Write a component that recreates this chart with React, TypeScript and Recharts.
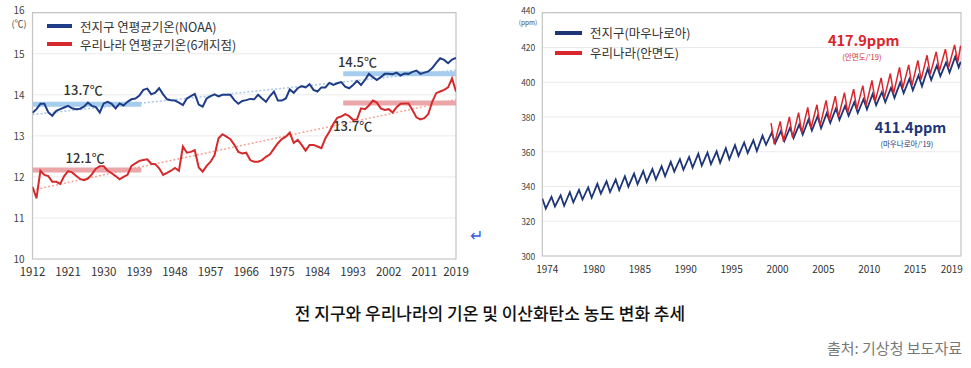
import React from 'react';
import { LineChart, Line, XAxis, YAxis, CartesianGrid, ReferenceArea, ReferenceDot, Legend } from 'recharts';

const FONT = '"Noto Sans CJK KR", "Noto Sans", sans-serif';

// ---------------- Temperature panel ----------------
const tempStartYear = 1912;
const globalTemp = [
  13.56, 13.65, 13.78, 13.78, 13.57, 13.49, 13.61, 13.65, 13.69, 13.73,
  13.67, 13.65, 13.66, 13.71, 13.81, 13.73, 13.70, 13.57, 13.79, 13.83,
  13.78, 13.67, 13.79, 13.74, 13.83, 13.89, 13.91, 13.98, 14.12, 14.15,
  14.01, 14.05, 14.16, 14.01, 13.89, 13.87, 13.86, 13.81, 13.75, 13.91,
  13.97, 14.02, 13.76, 13.71, 13.91, 13.97, 14.01, 13.96, 14.00, 14.00,
  14.00, 13.87, 13.78, 13.85, 13.87, 13.90, 13.89, 14.00, 13.91, 13.83,
  13.97, 14.08, 13.86, 13.86, 13.91, 14.13, 14.05, 14.16, 14.21, 14.18,
  14.26, 14.12, 14.08, 14.18, 14.18, 14.29, 14.24, 14.28, 14.31, 14.20,
  14.16, 14.24, 14.34, 14.24, 14.36, 14.51, 14.43, 14.36, 14.43, 14.51,
  14.51, 14.50, 14.54, 14.47, 14.52, 14.51, 14.56, 14.59, 14.51, 14.54,
  14.57, 14.65, 14.78, 14.89, 14.85, 14.77, 14.86, 14.90,
];
const koreaTemp = [
  11.76, 11.48, 12.15, 12.05, 12.02, 11.88, 11.88, 11.83, 12.02, 12.14,
  12.11, 12.03, 11.95, 11.92, 11.96, 12.06, 12.20, 12.26, 12.26, 12.15,
  12.09, 12.02, 11.94, 12.00, 12.05, 12.27, 12.33, 12.39, 12.41, 12.43,
  12.32, 12.31, 12.21, 12.05, 12.10, 12.15, 12.22, 12.15, 12.74, 12.59,
  12.61, 12.65, 12.23, 12.13, 12.27, 12.37, 12.53, 12.94, 13.04, 12.98,
  12.92, 12.78, 12.61, 12.57, 12.59, 12.41, 12.37, 12.37, 12.41, 12.49,
  12.55, 12.69, 12.82, 12.92, 12.98, 13.08, 12.83, 12.90, 12.78, 12.64,
  12.78, 12.78, 12.74, 12.70, 12.94, 13.10, 13.29, 13.44, 13.47, 13.53,
  13.48, 13.39, 13.40, 13.67, 13.65, 13.74, 13.86, 13.81, 13.67, 13.63,
  13.65, 13.57, 13.70, 13.78, 13.79, 13.79, 13.63, 13.45, 13.40, 13.43,
  13.53, 13.83, 14.04, 14.08, 14.12, 14.18, 14.40, 14.08,
];
const tempXTicks = [1912, 1921, 1930, 1939, 1948, 1957, 1966, 1975, 1984, 1993, 2002, 2011, 2019];
const tempYTicks = [10, 11, 12, 13, 14, 15, 16];
const trendYears = [1912, 2019];
const globalTrend = [13.52, 14.6];
const koreaTrend = [11.68, 13.88];
const earlyPeriod = [1912, 1939.5];
const latePeriod = [1990.5, 2019];
const globalPeriodMean = [13.77, 14.51];
const koreaPeriodMean = [12.17, 13.8];
const globalPeriodLabels = ['13.7℃', '14.5℃'];
const koreaPeriodLabels = ['12.1℃', '13.7℃'];
const tempSeriesNames = ['전지구 연평균기온(NOAA)', '우리나라 연평균기온(6개지점)'];

// ---------------- CO2 panel ----------------
const co2StartYear = 1974;
const globalCo2Peak = [
  333.1, 334.0, 334.9, 336.7, 338.0, 339.5, 341.5, 343.0, 344.0, 345.9,
  347.4, 348.9, 350.0, 351.6, 354.2, 355.7, 357.0, 358.9, 359.5, 360.2,
  362.0, 363.8, 365.3, 366.6, 369.3, 371.0, 371.8, 373.8, 375.6, 378.4,
  380.4, 382.2, 384.9, 386.4, 388.5, 390.2, 393.2, 394.3, 396.8, 399.8,
  401.9, 403.9, 407.6, 409.7, 411.3, 414.7,
];
const globalCo2Trough = [
  327.3, 328.5, 328.9, 330.9, 332.5, 333.5, 335.9, 336.8, 337.9, 339.9,
  341.3, 342.6, 344.0, 345.9, 348.6, 349.6, 350.9, 352.0, 352.9, 353.7,
  355.6, 357.6, 359.3, 360.4, 364.0, 364.9, 366.1, 367.8, 369.9, 372.2,
  373.5, 376.6, 378.4, 380.7, 382.3, 384.4, 386.8, 388.5, 391.0, 393.7,
  395.4, 397.6, 401.2, 403.5, 405.5, 408.5,
];
const globalCo2Last = 411.8;
const koreaStartYear = 1999;
const koreaCo2Peak = [
  376.5, 377.5, 380.0, 382.5, 385.5, 387.0, 389.5, 392.0, 394.0, 396.0,
  398.0, 401.0, 402.5, 405.0, 408.5, 410.0, 412.5, 415.5, 417.5, 419.0, 421.5,
];
const koreaCo2Trough = [
  364.4, 365.8, 368.0, 371.0, 373.5, 375.0, 378.0, 380.0, 382.5, 384.5,
  386.5, 389.0, 391.0, 393.5, 396.5, 398.0, 401.5, 404.5, 406.5, 408.5, 411.5,
];
const koreaCo2Last = 421.0;
const globalPeakPhase = 0.37; // May
const globalTroughPhase = 0.75; // Sep/Oct
const koreaPeakPhase = 0.3; // Apr
const koreaTroughPhase = 0.65; // Aug
const lastPhase = 0.96; // Dec
const co2Domain = [1974.37, 2020];
const co2XTicks = [1974.37, 1980, 1985, 1990, 1995, 2000, 2005, 2010, 2015, 2019];
const co2YTicks = [300, 320, 340, 360, 380, 400, 420, 440];
const co2SeriesNames = ['전지구(마우나로아)', '우리나라(안면도)'];
const co2Labels = ['417.9ppm', '(안면도/’19)', '411.4ppm', '(마우나로아/’19)'];

// ---------------- derived tables ----------------
const globalTempData = globalTemp.map((v, i) => ({ year: tempStartYear + i, v }));
const koreaTempData = koreaTemp.map((v, i) => ({ year: tempStartYear + i, v }));
const globalTrendData = trendYears.map((year, i) => ({ year, v: globalTrend[i] }));
const koreaTrendData = trendYears.map((year, i) => ({ year, v: koreaTrend[i] }));
const bandData = (period: number[], value: number) => period.map((year) => ({ year, v: value }));

const globalCo2Data = [
  ...globalCo2Peak.flatMap((p, i) => [
    { t: co2StartYear + i + globalPeakPhase, v: p },
    { t: co2StartYear + i + globalTroughPhase, v: globalCo2Trough[i] },
  ]),
  { t: co2StartYear + globalCo2Peak.length - 1 + lastPhase, v: globalCo2Last },
];
const koreaCo2Data = [
  ...koreaCo2Peak.flatMap((p, i) => [
    { t: koreaStartYear + i + koreaPeakPhase, v: p },
    { t: koreaStartYear + i + koreaTroughPhase, v: koreaCo2Trough[i] },
  ]),
  { t: koreaStartYear + koreaCo2Peak.length - 1 + lastPhase, v: koreaCo2Last },
];

// ---------------- colours ----------------
const TEMP_BLUE = '#1f3d87';
const TEMP_RED = '#d42a2c';
const BAND_BLUE = '#a6cdee';
const BAND_RED = '#eaa6a9';
const TREND_BLUE = '#a3c8ec';
const TREND_RED = '#f4a394';
const CO2_BLUE = '#1e3577';
const CO2_RED = '#d9262d';
const FRAME = '#c4c4c4';
const GRID = '#ebebeb';

const makeLegend = (order: string[], opt: { rowH: number; sw: number; th: number; gap: number; fs: number }) => (props: any) => {
  const items = (props.payload || [])
    .filter((p: any) => p.type !== 'none' && order.indexOf(p.value) >= 0)
    .sort((a: any, b: any) => order.indexOf(a.value) - order.indexOf(b.value));
  return (
    <div style={{ fontFamily: FONT }}>
      {items.map((it: any) => (
        <div key={it.value} style={{ display: 'flex', alignItems: 'center', height: opt.rowH }}>
          <span style={{ display: 'inline-block', width: opt.sw, height: opt.th, background: it.color, marginRight: opt.gap }} />
          <span style={{ fontSize: opt.fs, color: '#333', whiteSpace: 'nowrap' }}>{it.value}</span>
        </div>
      ))}
    </div>
  );
};

const TempYTick = (props: any) => {
  const { x, y, payload } = props;
  const top = payload.value === 16;
  const bottom = payload.value === 10;
  return (
    <g>
      <text x={x} y={top ? y - 3 : bottom ? y - 1 : y} textAnchor="end" dominantBaseline="central" fontSize={10} fill="#444" fontFamily={FONT}>
        {payload.value}
      </text>
      {top && (
        <text x={x + 2} y={y + 11} textAnchor="end" dominantBaseline="central" fontSize={9} fill="#444" fontFamily={FONT}>
          (℃)
        </text>
      )}
    </g>
  );
};

const Co2YTick = (props: any) => {
  const { x, y, payload } = props;
  const top = payload.value === 440;
  return (
    <g>
      <text x={x} y={top ? y - 3 : y} textAnchor="end" dominantBaseline="central" fontSize={8.5} fill="#444" fontFamily={FONT}>
        {payload.value}
      </text>
      {top && (
        <text x={x + 2} y={y + 9} textAnchor="end" dominantBaseline="central" fontSize={6.5} fill="#444" fontFamily={FONT}>
          (ppm)
        </text>
      )}
    </g>
  );
};

const Co2XTick = (props: any) => {
  const { x, y, payload, index } = props;
  return (
    <text x={index === 0 ? x + 5 : x} y={y} dy="0.71em" textAnchor="middle" fontSize={10} fill="#333" fontFamily={FONT}>
      {String(Math.floor(payload.value))}
    </text>
  );
};

const textShape = (text: string, fs: number, color: string, weight: number) => (p: any) => (
  <text x={p.cx} y={p.cy} textAnchor="middle" dominantBaseline="central" fontSize={fs} fill={color} fontWeight={weight} fontFamily={FONT}>
    {text}
  </text>
);

export default function App() {
  return (
    <div style={{ position: 'absolute', left: 0, top: 0, width: 971, height: 368, background: '#fff', fontFamily: FONT, overflow: 'hidden' }}>
      {/* Left: temperature */}
      <div style={{ position: 'absolute', left: 0, top: 0 }}>
        <LineChart width={470} height={290} margin={{ top: 12.7, right: 14, left: 8.5, bottom: 0 }}>
          <CartesianGrid vertical={false} stroke={GRID} />
          <XAxis
            dataKey="year"
            type="number"
            domain={[1912, 2019]}
            ticks={tempXTicks}
            allowDataOverflow
            axisLine={false}
            tickLine={false}
            tickSize={0}
            tickMargin={9}
            height={31}
            tick={{ fontSize: 11.5, fill: '#333', fontFamily: FONT }}
            interval={0}
          />
          <YAxis
            type="number"
            domain={[10, 16]}
            ticks={tempYTicks}
            axisLine={false}
            tickLine={false}
            tickSize={0}
            tickMargin={8}
            width={24}
            tick={<TempYTick />}
            interval={0}
          />
          <ReferenceArea x1={1912} x2={2019} y1={10} y2={16} fill="none" stroke={FRAME} strokeWidth={1.2} />
          <Line data={bandData(earlyPeriod, globalPeriodMean[0])} dataKey="v" stroke={BAND_BLUE} strokeWidth={5} dot={false} legendType="none" isAnimationActive={false} />
          <Line data={bandData(latePeriod, globalPeriodMean[1])} dataKey="v" stroke={BAND_BLUE} strokeWidth={5} dot={false} legendType="none" isAnimationActive={false} />
          <Line data={bandData(earlyPeriod, koreaPeriodMean[0])} dataKey="v" stroke={BAND_RED} strokeWidth={5} dot={false} legendType="none" isAnimationActive={false} />
          <Line data={bandData(latePeriod, koreaPeriodMean[1])} dataKey="v" stroke={BAND_RED} strokeWidth={5} dot={false} legendType="none" isAnimationActive={false} />
          <Line data={globalTrendData} dataKey="v" stroke={TREND_BLUE} strokeWidth={1.5} strokeDasharray="2 2" dot={false} legendType="none" isAnimationActive={false} />
          <Line data={koreaTrendData} dataKey="v" stroke={TREND_RED} strokeWidth={1.5} strokeDasharray="2 2" dot={false} legendType="none" isAnimationActive={false} />
          <Line data={globalTempData} dataKey="v" name={tempSeriesNames[0]} stroke={TEMP_BLUE} strokeWidth={2} dot={false} isAnimationActive={false} />
          <Line data={koreaTempData} dataKey="v" name={tempSeriesNames[1]} stroke={TEMP_RED} strokeWidth={2} dot={false} isAnimationActive={false} />
          <ReferenceDot x={1924.8} y={14.12} r={0} shape={textShape(globalPeriodLabels[0], 13, '#333', 500)} />
          <ReferenceDot x={1994.1} y={14.81} r={0} shape={textShape(globalPeriodLabels[1], 13, '#333', 500)} />
          <ReferenceDot x={1925.3} y={12.47} r={0} shape={textShape(koreaPeriodLabels[0], 13, '#333', 500)} />
          <ReferenceDot x={1992.9} y={13.25} r={0} shape={textShape(koreaPeriodLabels[1], 13, '#333', 500)} />
          <Legend
            layout="vertical"
            align="center"
            verticalAlign="middle"
            content={makeLegend(tempSeriesNames, { rowH: 18, sw: 25, th: 3.5, gap: 8, fs: 12.5 })}
            wrapperStyle={{ position: 'absolute', left: 47, top: 17, width: 'auto', height: 'auto', right: 'auto', bottom: 'auto' }}
          />
        </LineChart>
      </div>

      <div style={{ position: 'absolute', left: 470, top: 226, color: '#3b5bd6', fontSize: 16, lineHeight: '16px' }}>↵</div>

      {/* Right: CO2 */}
      <div style={{ position: 'absolute', left: 480, top: 0 }}>
        <LineChart width={491} height={290} margin={{ top: 12.7, right: 10, left: 32.3, bottom: 0 }}>
          <CartesianGrid vertical={false} stroke={GRID} />
          <XAxis
            dataKey="t"
            type="number"
            domain={co2Domain}
            ticks={co2XTicks}
            allowDataOverflow
            axisLine={false}
            tickLine={false}
            tickSize={0}
            tickMargin={10}
            height={34}
            tick={<Co2XTick />}
            interval={0}
          />
          <YAxis
            type="number"
            domain={[300, 440]}
            ticks={co2YTicks}
            axisLine={false}
            tickLine={false}
            tickSize={0}
            tickMargin={7}
            width={30}
            tick={<Co2YTick />}
            interval={0}
          />
          <ReferenceArea x1={co2Domain[0]} x2={co2Domain[1]} y1={300} y2={440} fill="none" stroke={FRAME} strokeWidth={1.2} />
          <Line data={globalCo2Data} dataKey="v" name={co2SeriesNames[0]} stroke={CO2_BLUE} strokeWidth={1.8} dot={false} isAnimationActive={false} />
          <Line data={koreaCo2Data} dataKey="v" name={co2SeriesNames[1]} stroke={CO2_RED} strokeWidth={1.5} dot={false} isAnimationActive={false} />
          <ReferenceDot x={2009.4} y={424.7} r={0} shape={textShape(co2Labels[0], 14.5, '#d9262d', 700)} />
          <ReferenceDot x={2009.2} y={414.7} r={0} shape={textShape(co2Labels[1], 7.5, '#d9262d', 400)} />
          <ReferenceDot x={2014.5} y={374.4} r={0} shape={textShape(co2Labels[2], 14.5, '#1e3577', 700)} />
          <ReferenceDot x={2014.1} y={364.8} r={0} shape={textShape(co2Labels[3], 7.5, '#1e3577', 400)} />
          <Legend
            layout="vertical"
            align="center"
            verticalAlign="middle"
            content={makeLegend(co2SeriesNames, { rowH: 20.3, sw: 27, th: 4, gap: 8, fs: 12.5 })}
            wrapperStyle={{ position: 'absolute', left: 75, top: 22.5, width: 'auto', height: 'auto', right: 'auto', bottom: 'auto' }}
          />
        </LineChart>
      </div>

      <div style={{ position: 'absolute', left: 0, top: 302, width: 980, textAlign: 'center', fontSize: 17, fontWeight: 500, color: '#111', lineHeight: '22px', whiteSpace: 'nowrap' }}>
        전 지구와 우리나라의 기온 및 이산화탄소 농도 변화 추세
      </div>
      <div style={{ position: 'absolute', left: 0, top: 338, width: 962, textAlign: 'right', fontSize: 15, color: '#777', lineHeight: '20px', whiteSpace: 'nowrap' }}>
        출처: 기상청 보도자료
      </div>
    </div>
  );
}
